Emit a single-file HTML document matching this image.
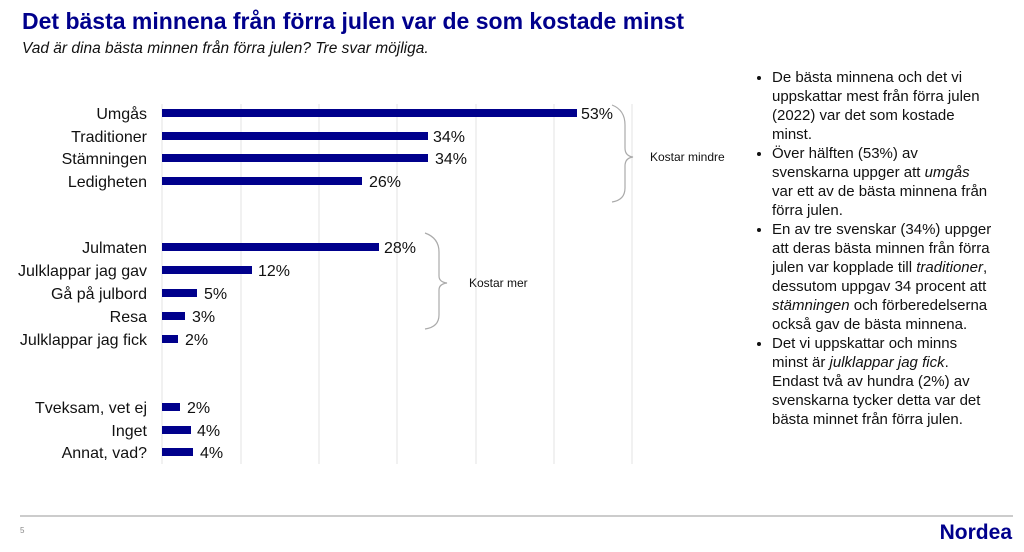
<!DOCTYPE html>
<html><head><meta charset="utf-8"><style>
body{margin:0;width:1024px;height:552px;background:#fff;position:relative;overflow:hidden;font-family:"Liberation Sans",sans-serif}
.t{position:absolute;left:22px;top:8px;font-size:23px;font-weight:bold;color:#00008c;white-space:nowrap}
.s{position:absolute;left:22px;top:40px;font-size:15.5px;font-style:italic;color:#111;white-space:nowrap}
ul{position:absolute;left:746px;top:68px;width:222px;margin:0;padding:0 0 0 26px;font-size:15px;line-height:19px;color:#111}
li{margin:0}
.ft{position:absolute;left:20px;top:515px;width:993px;border-top:2px solid #ccc}
</style></head><body>
<div class="t">Det bästa minnena från förra julen var de som kostade minst</div>
<div class="s">Vad är dina bästa minnen från förra julen? Tre svar möjliga.</div>
<svg width="1024" height="552" style="position:absolute;left:0;top:0" font-family="Liberation Sans, sans-serif">
<g stroke="#e3e3e3" stroke-width="1">
<line x1="162" y1="104" x2="162" y2="464"/><line x1="241" y1="104" x2="241" y2="464"/><line x1="319" y1="104" x2="319" y2="464"/><line x1="397" y1="104" x2="397" y2="464"/><line x1="476" y1="104" x2="476" y2="464"/><line x1="554" y1="104" x2="554" y2="464"/><line x1="632" y1="104" x2="632" y2="464"/>
</g>
<g fill="#00008c">
<rect x="162" y="109" width="415" height="8"/>
<rect x="162" y="132" width="266" height="8"/>
<rect x="162" y="154" width="266" height="8"/>
<rect x="162" y="177" width="200" height="8"/>
<rect x="162" y="243" width="217" height="8"/>
<rect x="162" y="266" width="90" height="8"/>
<rect x="162" y="289" width="35" height="8"/>
<rect x="162" y="312" width="23" height="8"/>
<rect x="162" y="335" width="16" height="8"/>
<rect x="162" y="403" width="18" height="8"/>
<rect x="162" y="426" width="29" height="8"/>
<rect x="162" y="448" width="31" height="8"/>
</g>
<g font-size="16" fill="#111" text-anchor="end">
<text x="147" y="119">Umgås</text><text x="147" y="142">Traditioner</text><text x="147" y="164">Stämningen</text><text x="147" y="187">Ledigheten</text>
<text x="147" y="253">Julmaten</text><text x="147" y="276">Julklappar jag gav</text><text x="147" y="299">Gå på julbord</text><text x="147" y="322">Resa</text><text x="147" y="345">Julklappar jag fick</text>
<text x="147" y="413">Tveksam, vet ej</text><text x="147" y="436">Inget</text><text x="147" y="458">Annat, vad?</text>
</g>
<g font-size="16" fill="#111">
<text x="581" y="119">53%</text><text x="433" y="142">34%</text><text x="435" y="164">34%</text><text x="369" y="187">26%</text>
<text x="384" y="253">28%</text><text x="258" y="276">12%</text><text x="204" y="299">5%</text><text x="192" y="322">3%</text><text x="185" y="345">2%</text>
<text x="187" y="413">2%</text><text x="197" y="436">4%</text><text x="200" y="458">4%</text>
</g>
<g fill="none" stroke="#aaa" stroke-width="1.2">
<path d="M612 105 Q625 110 625 125 L625 148 Q625 156 633 157 Q625 158 625 166 L625 188 Q625 200 612 202"/>
<path d="M425 233 Q439 238 439 252 L439 276 Q439 282 447 283 Q439 284 439 290 L439 315 Q439 327 425 329"/>
</g>
<text x="650" y="161" font-size="12" fill="#111">Kostar mindre</text>
<text x="469" y="287" font-size="12" fill="#111">Kostar mer</text>
<text x="20" y="533" font-size="8" fill="#888">5</text>
<text x="1012" y="539" font-size="21" font-weight="bold" fill="#00008c" text-anchor="end">Nordea</text>
</svg>
<ul>
<li>De bästa minnena och det vi uppskattar mest från förra julen (2022) var det som kostade minst.</li>
<li>Över hälften (53%) av svenskarna uppger att <i>umgås</i> var ett av de bästa minnena från förra julen.</li>
<li>En av tre svenskar (34%) uppger att deras bästa minnen från förra julen var kopplade till <i>traditioner</i>, dessutom uppgav 34 procent att <i>stämningen</i> och förberedelserna också gav de bästa minnena.</li>
<li>Det vi uppskattar och minns minst är <i>julklappar jag fick</i>. Endast två av hundra (2%) av svenskarna tycker detta var det bästa minnet från förra julen.</li>
</ul>
<div class="ft"></div>
</body></html>
